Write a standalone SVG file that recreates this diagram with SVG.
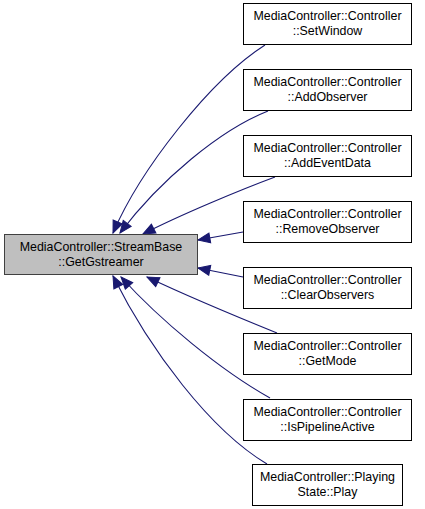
<svg xmlns="http://www.w3.org/2000/svg" width="425" height="509" viewBox="0 0 425 509">
<style>
.n rect{fill:#ffffff;stroke:#000000;stroke-width:1}
.m rect{fill:#bfbfbf;stroke:#404040;stroke-width:1}
text{font-family:"Liberation Sans",Arial,sans-serif;font-size:12.4px;fill:#000000;text-anchor:middle}
.e path{fill:none;stroke:#191970;stroke-width:1.1;marker-end:url(#a)}
</style>
<defs>
<marker id="a" markerUnits="userSpaceOnUse" markerWidth="16" markerHeight="14" refX="13" refY="7" orient="auto">
<path d="M1,2 L13,7 L1,12 z" fill="#191970" stroke="#191970" stroke-width="1"/>
</marker>
</defs>
<rect width="425" height="509" fill="#ffffff"/>
<g class="e" id="edges">
<path d="M265,45 C210,80 140,170 113,233"/>
<path d="M268,111 C220,130 160,180 120,233"/>
<path d="M275,177 C240,190 180,215 143,234"/>
<path d="M243,232 L198,240"/>
<path d="M243,277 L198,268"/>
<path d="M277,333 C240,318 185,295 147,277"/>
<path d="M270,398 C220,370 160,320 121,277"/>
<path d="M267,464 C210,430 150,350 113,276"/>
</g>
<g class="m" id="main"><rect x="4.5" y="234.5" width="193" height="40"/><text x="101" y="251">MediaController::StreamBase</text><text x="101" y="266">::GetGstreamer</text></g>
<g class="n" id="n1"><rect x="243.5" y="3.5" width="168" height="41"/><text x="327.5" y="20">MediaController::Controller</text><text x="327.5" y="35">::SetWindow</text></g>
<g class="n" id="n2"><rect x="243.5" y="69.5" width="168" height="41"/><text x="327.5" y="86">MediaController::Controller</text><text x="327.5" y="101">::AddObserver</text></g>
<g class="n" id="n3"><rect x="243.5" y="135.5" width="168" height="41"/><text x="327.5" y="152">MediaController::Controller</text><text x="327.5" y="167">::AddEventData</text></g>
<g class="n" id="n4"><rect x="243.5" y="201.5" width="168" height="41"/><text x="327.5" y="218">MediaController::Controller</text><text x="327.5" y="233">::RemoveObserver</text></g>
<g class="n" id="n5"><rect x="243.5" y="267.5" width="168" height="41"/><text x="327.5" y="284">MediaController::Controller</text><text x="327.5" y="299">::ClearObservers</text></g>
<g class="n" id="n6"><rect x="243.5" y="333.5" width="168" height="41"/><text x="327.5" y="350">MediaController::Controller</text><text x="327.5" y="365">::GetMode</text></g>
<g class="n" id="n7"><rect x="243.5" y="399.5" width="168" height="41"/><text x="327.5" y="416">MediaController::Controller</text><text x="327.5" y="431">::IsPipelineActive</text></g>
<g class="n" id="n8"><rect x="252.5" y="464.5" width="150" height="41"/><text x="327.5" y="481">MediaController::Playing</text><text x="327.5" y="496">State::Play</text></g>
</svg>
